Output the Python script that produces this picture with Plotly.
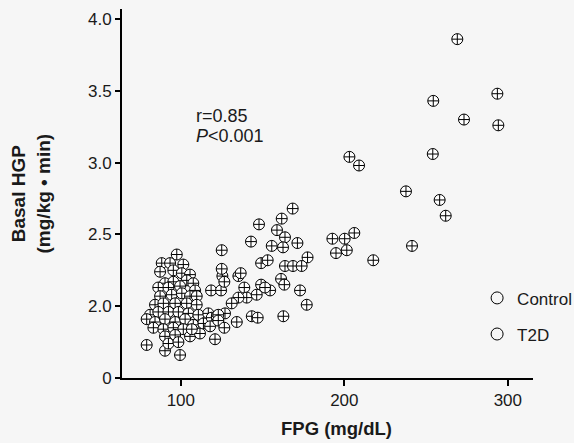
import plotly.graph_objects as go

# ---- data ----
control_fpg = [97.5, 88.3, 93.4, 101.5, 87.3, 95.4, 100.6, 105.6, 90.3, 95.4,
               103.6, 107.6, 86.2, 92.4, 99.5, 108.7, 87.3, 94.4, 100.6, 105.6,
               109.7, 84.2, 89.3, 96.5, 103.6, 109.7, 81.2, 86.2, 92.4, 98.5,
               104.6, 110.7, 79.1, 84.2, 90.3, 96.5, 102.6, 107.6, 83.2, 89.3,
               95.4, 101.5, 90.3, 96.5, 79.1, 90.3, 99.5, 92.4, 98.5, 105.6,
               111.7, 106.7]
control_hgp = [2.36, 2.30, 2.30, 2.29, 2.24, 2.25, 2.23, 2.22, 2.16, 2.17,
               2.18, 2.16, 2.13, 2.13, 2.14, 2.11, 2.07, 2.08, 2.09, 2.07,
               2.07, 2.01, 2.02, 2.02, 2.02, 2.01, 1.94, 1.96, 1.96, 1.96,
               1.95, 1.94, 1.91, 1.89, 1.91, 1.89, 1.91, 1.87, 1.85, 1.84,
               1.85, 1.84, 1.79, 1.80, 1.73, 1.69, 1.66, 1.74, 1.75, 1.79,
               1.81, 1.84]

t2d_fpg = [116.8, 113.8, 118.9, 117.9, 122.0, 127.0, 118.5, 124.6, 125.0, 125.4,
           126.6, 125.0, 168.4, 161.7, 147.8, 158.8, 163.7, 171.3, 155.6, 162.5,
           142.9, 177.5, 149.1, 153.1, 163.7, 168.6, 173.9, 135.2, 136.6, 161.3,
           163.3, 172.9, 149.1, 154.6, 151.5, 138.8, 140.3, 135.2, 146.4, 131.1,
           177.0, 122.9, 122.9, 134.2, 143.4, 147.0, 162.7, 126.6, 120.9, 203.1,
           209.0, 254.1, 237.7, 258.3, 262.0, 192.7, 200.2, 206.1, 194.9, 201.5,
           217.7, 241.4, 269.1, 293.6, 254.4, 273.2, 294.2]
t2d_hgp = [1.95, 1.88, 1.92, 1.86, 1.93, 1.95, 2.11, 2.11, 2.39, 2.21,
           2.17, 2.26, 2.68, 2.61, 2.57, 2.53, 2.48, 2.44, 2.42, 2.41,
           2.45, 2.34, 2.30, 2.32, 2.28, 2.28, 2.28, 2.21, 2.23, 2.19,
           2.15, 2.11, 2.15, 2.11, 2.13, 2.13, 2.06, 2.06, 2.08, 2.02,
           2.01, 1.94, 1.90, 1.89, 1.93, 1.92, 1.93, 1.85, 1.77, 3.04,
           2.98, 3.06, 2.80, 2.74, 2.63, 2.47, 2.47, 2.51, 2.37, 2.39,
           2.32, 2.42, 3.86, 3.48, 3.43, 3.30, 3.26]

group_names = ["Control", "T2D"]
x_ticks = [100, 200, 300]
y_ticks = [1.5, 2.0, 2.5, 3.0, 3.5, 4.0]
y_tick_text = ["0", "2.0", "2.5", "3.0", "3.5", "4.0"]
stats_lines = ["r=0.85", "<i>P</i>&lt;0.001"]

FONT = "Liberation Sans, Arial, sans-serif"
INK = "#1a1a1a"

fig = go.Figure()

data_marker = dict(symbol="circle-cross", size=11, color="white",
                   line=dict(color="black", width=1))
for xs, ys, name in [(control_fpg, control_hgp, group_names[0]),
                     (t2d_fpg, t2d_hgp, group_names[1])]:
    fig.add_trace(go.Scatter(x=xs, y=ys, mode="markers", name=name,
                             marker=data_marker, showlegend=False,
                             hoverinfo="x+y"))

# legend entries (plain open circles, as in the original)
for i, name in enumerate(group_names):
    fig.add_trace(go.Scatter(x=[None], y=[None], mode="markers", name=name,
                             legendgroup=name,
                             marker=dict(symbol="circle-open", size=12,
                                         color="black", line=dict(width=1))))

fig.update_layout(
    width=574, height=443,
    margin=dict(l=122, r=41, t=9, b=65, autoexpand=False),
    paper_bgcolor="#f6f6f6", plot_bgcolor="#f6f6f6",
    font=dict(family=FONT, size=17, color=INK),
    showlegend=True,
    legend=dict(x=0.864, y=0.2646, xanchor="left", yanchor="top",
                bgcolor="rgba(0,0,0,0)", font=dict(size=17, color=INK),
                tracegroupgap=11, traceorder="grouped"),
    xaxis=dict(range=[64.0, 315.4], tickvals=x_ticks, showgrid=False,
               zeroline=False, showline=True, linecolor="black", linewidth=2,
               ticks="outside", ticklen=6, tickwidth=1.5, tickcolor="black",
               tickfont=dict(size=17, color=INK)),
    yaxis=dict(range=[1.5, 4.07], tickvals=y_ticks, ticktext=y_tick_text,
               showgrid=False, zeroline=False, showline=True,
               linecolor="black", linewidth=2, ticks="outside", ticklen=5,
               tickwidth=1.5, tickcolor="black",
               tickfont=dict(size=17, color=INK)),
    annotations=[
        dict(text="<b>FPG (mg/dL)</b>", xref="paper", yref="paper",
             x=0.522, y=-0.138, xanchor="center", yanchor="middle",
             showarrow=False, font=dict(size=18.5, color=INK)),
        dict(text="<b>Basal HGP<br>(mg/kg • min)</b>", xref="paper",
             yref="paper", x=-0.2215, y=0.5, xanchor="center",
             yanchor="middle", textangle=-90, showarrow=False,
             font=dict(size=19, color=INK)),
        dict(text=stats_lines[0], xref="paper", yref="paper",
             x=(194 - 122) / 411, y=(378 - 116.5) / 369, xanchor="left",
             yanchor="middle", showarrow=False,
             font=dict(size=18, color=INK)),
        dict(text=stats_lines[1], xref="paper", yref="paper",
             x=(194 - 122) / 411, y=(378 - 136) / 369, xanchor="left",
             yanchor="middle", showarrow=False,
             font=dict(size=18, color=INK)),
    ],
)

fig.write_html("out.html")
